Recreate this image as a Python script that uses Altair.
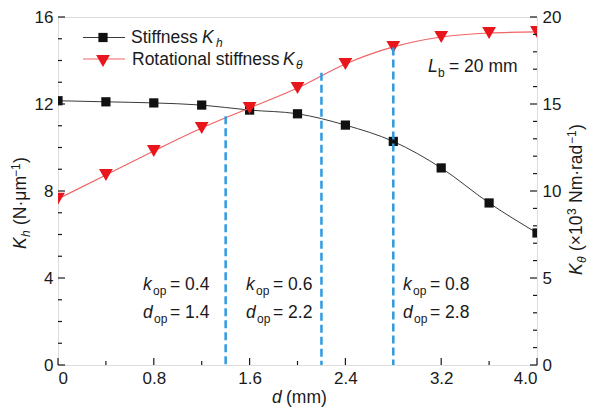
import altair as alt
import pandas as pd

# ---------------- data ----------------
d_vals = [0, 0.4, 0.8, 1.2, 1.6, 2.0, 2.4, 2.8, 3.2, 3.6, 4.0]
kh_vals = [12.15, 12.1, 12.05, 11.95, 11.72, 11.55, 11.03, 10.28, 9.06, 7.45, 6.07]
kt_vals = [9.55, 10.92, 12.3, 13.62, 14.77, 15.92, 17.3, 18.28, 18.85, 19.08, 19.14]

d_op = [1.4, 2.2, 2.8]
k_op = ["0.4", "0.6", "0.8"]
d_op_lbl = ["1.4", "2.2", "2.8"]
kt_at_op = [14.3, 16.8, 18.25]

x_major = [0, 0.8, 1.6, 2.4, 3.2, 4.0]
x_minor = [0.4, 1.2, 2.0, 2.8, 3.6]
yl_major = [0, 4, 8, 12, 16]
yl_minor = [1, 2, 3, 5, 6, 7, 9, 10, 11, 13, 14, 15]
yr_major = [0, 5, 10, 15, 20]
yr_minor = [1, 2, 3, 4, 6, 7, 8, 9, 11, 12, 13, 14, 16, 17, 18, 19]

# ---------------- style ----------------
W, H = 479, 348
FONT = "Liberation Sans"
TXT = "#1a1a1a"
FS = 17.5
SUB = 12
BLACK_LINE = "#3a3a3a"
RED = "#e8151c"
RED_LINE = "#f06464"
BLUE = "#2f9be0"

main = pd.DataFrame({"d": d_vals, "kh": kh_vals, "kt": kt_vals})
ops = pd.DataFrame({"d": d_op, "kt": kt_at_op, "base": [0] * len(d_op)})

xs = alt.Scale(domain=[0, 4.0], nice=False, zero=False)
ysl = alt.Scale(domain=[0, 16], nice=False)
ysr = alt.Scale(domain=[0, 20], nice=False)

x_axis = alt.Axis(values=x_major, ticks=False, tickSize=0, domain=False, grid=False,
                  title=None, labelFont=FONT, labelFontSize=17, labelColor=TXT,
                  labelPadding=5,
                  labelExpr="datum.value == 0 ? '0' : format(datum.value, '.1f')")
yl_axis = alt.Axis(values=yl_major, ticks=False, tickSize=0, domain=False, grid=False,
                   title=None, labelFont=FONT, labelFontSize=17, labelColor=TXT,
                   labelPadding=5, orient="left")
yr_axis = alt.Axis(values=yr_major, ticks=False, tickSize=0, domain=False, grid=False,
                   title=None, labelFont=FONT, labelFontSize=17, labelColor=TXT,
                   labelPadding=5, orient="right")

X = alt.X("d:Q", scale=xs, axis=x_axis)
YL = alt.Y("kh:Q", scale=ysl, axis=yl_axis)
YR = alt.Y("kt:Q", scale=ysr, axis=yr_axis)

dummy = alt.Data(values=[{"a": 1}])


def txt(s, x, y, size=FS, italic=False, angle=0, align="left"):
    kw = dict(text=s, font=FONT, fontSize=size, color=TXT, align=align,
              baseline="alphabetic", fontStyle="italic" if italic else "normal")
    if angle:
        kw["angle"] = angle
    return alt.Chart(dummy).mark_text(**kw).encode(x=alt.value(x), y=alt.value(y))


# ---------------- left group ----------------
black_line = alt.Chart(main).mark_line(color=BLACK_LINE, strokeWidth=1,
                                        interpolate="monotone", clip=True).encode(x=X, y=YL)
black_pts = alt.Chart(main).mark_point(shape="square", filled=True, size=85,
                                       color="#111111", opacity=1, clip=True).encode(x=X, y=YL)

xt_major = alt.Chart(pd.DataFrame({"d": x_major})).mark_rule(color=TXT, strokeWidth=1.2).encode(
    x=X, y=alt.value(H), y2=alt.value(H - 7))
xt_minor = alt.Chart(pd.DataFrame({"d": x_minor})).mark_rule(color=TXT, strokeWidth=1.2).encode(
    x=X, y=alt.value(H), y2=alt.value(H - 4))
ylt_major = alt.Chart(pd.DataFrame({"kh": yl_major})).mark_rule(color=TXT, strokeWidth=1.2).encode(
    y=YL, x=alt.value(0), x2=alt.value(7))
ylt_minor = alt.Chart(pd.DataFrame({"kh": yl_minor})).mark_rule(color=TXT, strokeWidth=1.2).encode(
    y=YL, x=alt.value(0), x2=alt.value(4))

texts = []
# legend
texts.append(alt.Chart(dummy).mark_rule(color=BLACK_LINE, strokeWidth=1).encode(
    x=alt.value(25), x2=alt.value(67), y=alt.value(20.5)))
texts.append(alt.Chart(dummy).mark_point(shape="square", filled=True, size=85, color="#111111",
                                         opacity=1).encode(x=alt.value(45), y=alt.value(20.5)))
texts.append(alt.Chart(dummy).mark_rule(color=RED_LINE, strokeWidth=1.2).encode(
    x=alt.value(25), x2=alt.value(67), y=alt.value(42)))
texts.append(alt.Chart(dummy).mark_point(shape="triangle-down", filled=True, size=190, color=RED,
                                         opacity=1).encode(x=alt.value(45), y=alt.value(44)))
texts += [txt("Stiffness", 73, 26), txt("K", 144, 26, italic=True), txt("h", 158, 30, size=SUB, italic=True)]
texts += [txt("Rotational stiffness", 74, 47.5), txt("K", 225, 47.5, italic=True),
          txt("θ", 238, 51.5, size=SUB, italic=True)]
# L_b
texts += [txt("L", 370, 55, italic=True), txt("b", 380, 60, size=SUB), txt("= 20 mm", 391, 55)]
# annotations
for i, (kk, dd) in enumerate(zip(k_op, d_op_lbl)):
    x0 = [85, 188, 345][i]
    texts += [txt("k", x0, 273, italic=True), txt("op", x0 + 10, 278, size=SUB),
              txt("= " + kk, x0 + 27, 273)]
    texts += [txt("d", x0, 301, italic=True), txt("op", x0 + 11, 306, size=SUB),
              txt("= " + dd, x0 + 27, 301)]
# x title
texts += [txt("d", 214, 386, italic=True), txt("(mm)", 228, 386)]
# left title (rotated, reading upward)
lx = -32
texts += [txt("K", lx, 232, italic=True, angle=270),
          txt("h", lx + 4, 220, size=SUB, italic=True, angle=270),
          txt("(N·μm", lx, 208, angle=270),
          txt("−1", lx - 6, 160, size=SUB, angle=270),
          txt(")", lx, 146, angle=270)]
# right title
rx = 524
texts += [txt("K", rx, 258, italic=True, angle=270),
          txt("θ", rx + 4, 246, size=SUB, italic=True, angle=270),
          txt("(×10", rx, 234, angle=270),
          txt("3", rx - 6, 198, size=SUB, angle=270),
          txt("Nm·rad", rx, 186, angle=270),
          txt("−1", rx - 6, 127, size=SUB, angle=270),
          txt(")", rx, 113, angle=270)]

left = alt.layer(black_line, black_pts, xt_major, xt_minor, ylt_major, ylt_minor, *texts)

# ---------------- right group ----------------
red_line = alt.Chart(main).mark_line(color=RED_LINE, strokeWidth=1.2,
                                      interpolate="monotone", clip=True).encode(x=X, y=YR)
red_pts = alt.Chart(main).mark_point(shape="triangle-down", filled=True, size=190,
                                     color=RED, opacity=1, clip=True).encode(x=X, y=YR)
dash = alt.Chart(ops).mark_rule(color=BLUE, strokeWidth=2.5, strokeDash=[8, 4]).encode(
    x=X, y=YR, y2="base:Q")
yrt_major = alt.Chart(pd.DataFrame({"kt": yr_major})).mark_rule(color=TXT, strokeWidth=1.2).encode(
    y=YR, x=alt.value(W), x2=alt.value(W - 7))
yrt_minor = alt.Chart(pd.DataFrame({"kt": yr_minor})).mark_rule(color=TXT, strokeWidth=1.2).encode(
    y=YR, x=alt.value(W), x2=alt.value(W - 4))

right = alt.layer(red_line, red_pts, dash, yrt_major, yrt_minor)

chart = alt.layer(left, right).resolve_scale(y="independent").properties(
    width=W, height=H,
    autosize=alt.AutoSizeParams(type="none"),
    padding={"left": 50, "top": 9, "right": 51, "bottom": 44},
).configure_view(stroke="#1a1a1a", strokeWidth=1.3).configure(background="white")

chart.save("out.html", embed_options={"renderer": "svg", "actions": False})
